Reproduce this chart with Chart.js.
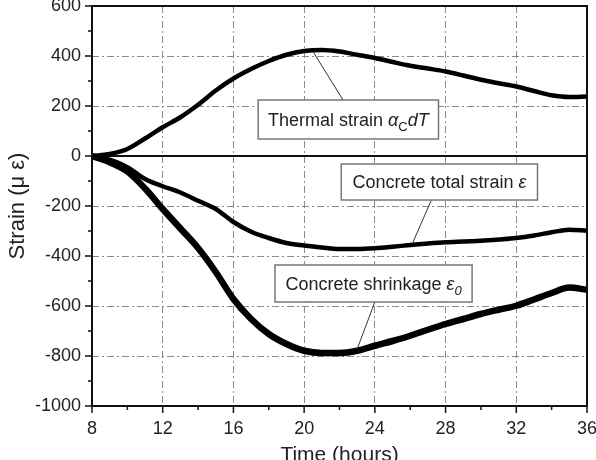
<!DOCTYPE html>
<html>
<head>
<meta charset="utf-8">
<script src="https://cdn.jsdelivr.net/npm/chart.js@4.4.0/dist/chart.umd.min.js"></script>
<style>
  body { margin: 0; background: #fff; }
  #wrap { width: 596px; height: 460px; }
</style>
</head>
<body>
<div id="wrap"><canvas id="strainChart" width="596" height="460"></canvas></div>
<script>
// time axis (hours) and the three measured curves (micro strain)
const hours = [8, 9, 10, 11, 12, 13, 14, 15, 16, 17, 18, 19, 20, 21, 22, 23, 24, 25, 26, 27, 28, 29, 30, 31, 32, 33, 34, 35, 36];
const thermalStrain = [0, 8, 28, 70, 115, 155, 205, 262, 310, 348, 380, 405, 420, 424, 418, 405, 392, 376, 361, 350, 338, 322, 305, 291, 278, 260, 243, 236, 238];
const totalStrain = [0, -15, -45, -92, -121, -146, -179, -212, -264, -303, -328, -348, -358, -366, -372, -372, -369, -363, -356, -350, -345, -342, -339, -334, -328, -318, -305, -295, -299];
const shrinkageStrain = [0, -25, -62, -130, -212, -290, -368, -464, -572, -652, -712, -752, -779, -788, -788, -779, -759, -740, -719, -695, -672, -652, -632, -615, -599, -574, -548, -526, -535];

const xTicks = [8, 12, 16, 20, 24, 28, 32, 36];
const yTicks = [-1000, -800, -600, -400, -200, 0, 200, 400, 600];

const FONT = "'Liberation Sans', Arial, sans-serif";

// callout boxes, in data units: [x1, yTop, x2, yBottom], leader from -> to
const notes = [
    { box: [17.4, 224, 27.6, 68], from: [22.2, 224], to: [20.5, 418],
      parts: [['Thermal strain ', ''], ['α', 'italic'], ['C', 'sub'], ['dT', 'italic']] },
    { box: [22.1, -32, 33.2, -176], from: [27.2, -176], to: [26.1, -354],
      parts: [['Concrete total strain ', ''], ['ε', 'italic']] },
    { box: [18.35, -436, 29.5, -584], from: [24.0, -584], to: [23.0, -772],
      parts: [['Concrete shrinkage ', ''], ['ε', 'italic'], ['0', 'subitalic']] },
];

function seg(ctx, x1, y1, x2, y2) {
    ctx.beginPath();
    ctx.moveTo(x1, y1);
    ctx.lineTo(x2, y2);
    ctx.stroke();
}

function partFont(kind) {
    if (kind === 'italic') return 'italic 18px ' + FONT;
    if (kind === 'sub') return '13px ' + FONT;
    if (kind === 'subitalic') return 'italic 13px ' + FONT;
    return '18px ' + FONT;
}

const framePlugin = {
    id: 'frame',
    beforeDatasetsDraw(chart) {
        const { ctx, chartArea: a, scales: { y } } = chart;
        const y0 = y.getPixelForValue(0);
        ctx.save();
        ctx.strokeStyle = '#111';
        ctx.lineWidth = 2;
        seg(ctx, a.left, y0, a.right, y0);
        ctx.restore();
    },
    afterDraw(chart) {
        const { ctx, chartArea: a, scales: { x, y } } = chart;
        ctx.save();
        ctx.strokeStyle = '#111';
        ctx.lineWidth = 2;
        ctx.strokeRect(a.left, a.top, a.right - a.left, a.bottom - a.top);

        // major + minor tick marks, outward
        ctx.lineWidth = 1.5;
        for (let i = 0; i < xTicks.length; i++) {
            const px = x.getPixelForValue(xTicks[i]);
            seg(ctx, px, a.bottom, px, a.bottom + 7);
            if (i < xTicks.length - 1) {
                const mx = x.getPixelForValue((xTicks[i] + xTicks[i + 1]) / 2);
                seg(ctx, mx, a.bottom, mx, a.bottom + 4);
            }
        }
        for (let i = 0; i < yTicks.length; i++) {
            const py = y.getPixelForValue(yTicks[i]);
            seg(ctx, a.left, py, a.left - 7, py);
            if (i < yTicks.length - 1) {
                const my = y.getPixelForValue((yTicks[i] + yTicks[i + 1]) / 2);
                seg(ctx, a.left, my, a.left - 4, my);
            }
        }

        // callouts
        notes.forEach(n => {
            const bx1 = x.getPixelForValue(n.box[0]), by1 = y.getPixelForValue(n.box[1]);
            const bx2 = x.getPixelForValue(n.box[2]), by2 = y.getPixelForValue(n.box[3]);
            ctx.strokeStyle = '#333';
            ctx.lineWidth = 1;
            seg(ctx, x.getPixelForValue(n.from[0]), y.getPixelForValue(n.from[1]),
                x.getPixelForValue(n.to[0]), y.getPixelForValue(n.to[1]));
            ctx.fillStyle = '#fff';
            ctx.fillRect(bx1, by1, bx2 - bx1, by2 - by1);
            ctx.strokeStyle = '#777';
            ctx.lineWidth = 1.5;
            ctx.strokeRect(bx1, by1, bx2 - bx1, by2 - by1);

            let w = 0;
            n.parts.forEach(p => { ctx.font = partFont(p[1]); w += ctx.measureText(p[0]).width; });
            let tx = (bx1 + bx2) / 2 - w / 2;
            const ty = (by1 + by2) / 2 + 6;
            ctx.fillStyle = '#222';
            ctx.textBaseline = 'alphabetic';
            ctx.textAlign = 'left';
            n.parts.forEach(p => {
                ctx.font = partFont(p[1]);
                const off = (p[1] === 'sub' || p[1] === 'subitalic') ? 5 : 0;
                ctx.fillText(p[0], tx, ty + off);
                tx += ctx.measureText(p[0]).width;
            });
        });
        ctx.restore();
    }
};

const gridStyle = {
    color: '#8a8a8a',
    lineWidth: 1,
    drawTicks: false
};

new Chart(document.getElementById('strainChart').getContext('2d'), {
    type: 'line',
    data: {
        datasets: [
            { label: 'Thermal strain', data: hours.map((h, i) => ({ x: h, y: thermalStrain[i] })),
              borderColor: '#000', borderWidth: 4.5 },
            { label: 'Concrete total strain', data: hours.map((h, i) => ({ x: h, y: totalStrain[i] })),
              borderColor: '#000', borderWidth: 4.5 },
            { label: 'Concrete shrinkage', data: hours.map((h, i) => ({ x: h, y: shrinkageStrain[i] })),
              borderColor: '#000', borderWidth: 6.5 },
        ]
    },
    options: {
        responsive: false,
        animation: false,
        layout: { padding: { top: 6, right: 9, left: 0, bottom: 0 } },
        elements: {
            point: { radius: 0 },
            line: { cubicInterpolationMode: 'monotone', borderCapStyle: 'round', borderJoinStyle: 'round' }
        },
        plugins: { legend: { display: false }, tooltip: { enabled: false } },
        scales: {
            x: {
                type: 'linear', min: 8, max: 36,
                afterBuildTicks: s => { s.ticks = xTicks.map(v => ({ value: v })); },
                afterFit: s => { s.height = 54; s.paddingLeft = 0; s.paddingRight = 0; },
                grid: gridStyle,
                border: { display: false, dash: [7, 3, 2, 3] },
                ticks: { color: '#222', font: { family: FONT, size: 18 }, padding: 12, maxRotation: 0,
                         callback: v => String(v) },
                title: { display: true, text: 'Time (hours)', color: '#222', font: { family: FONT, size: 21 }, padding: { top: 0, bottom: -8 } }
            },
            y: {
                min: -1000, max: 600,
                afterBuildTicks: s => { s.ticks = yTicks.map(v => ({ value: v })); },
                afterFit: s => { s.width = 92; s.paddingTop = 0; s.paddingBottom = 0; },
                grid: gridStyle,
                border: { display: false, dash: [7, 3, 2, 3] },
                ticks: { color: '#222', font: { family: FONT, size: 18 }, padding: 11,
                         callback: v => String(v) },
                title: { display: true, text: 'Strain (μ ε)', color: '#222', font: { family: FONT, size: 22 }, padding: { top: 5, bottom: 0 } }
            }
        }
    },
    plugins: [framePlugin]
});
</script>
</body>
</html>
